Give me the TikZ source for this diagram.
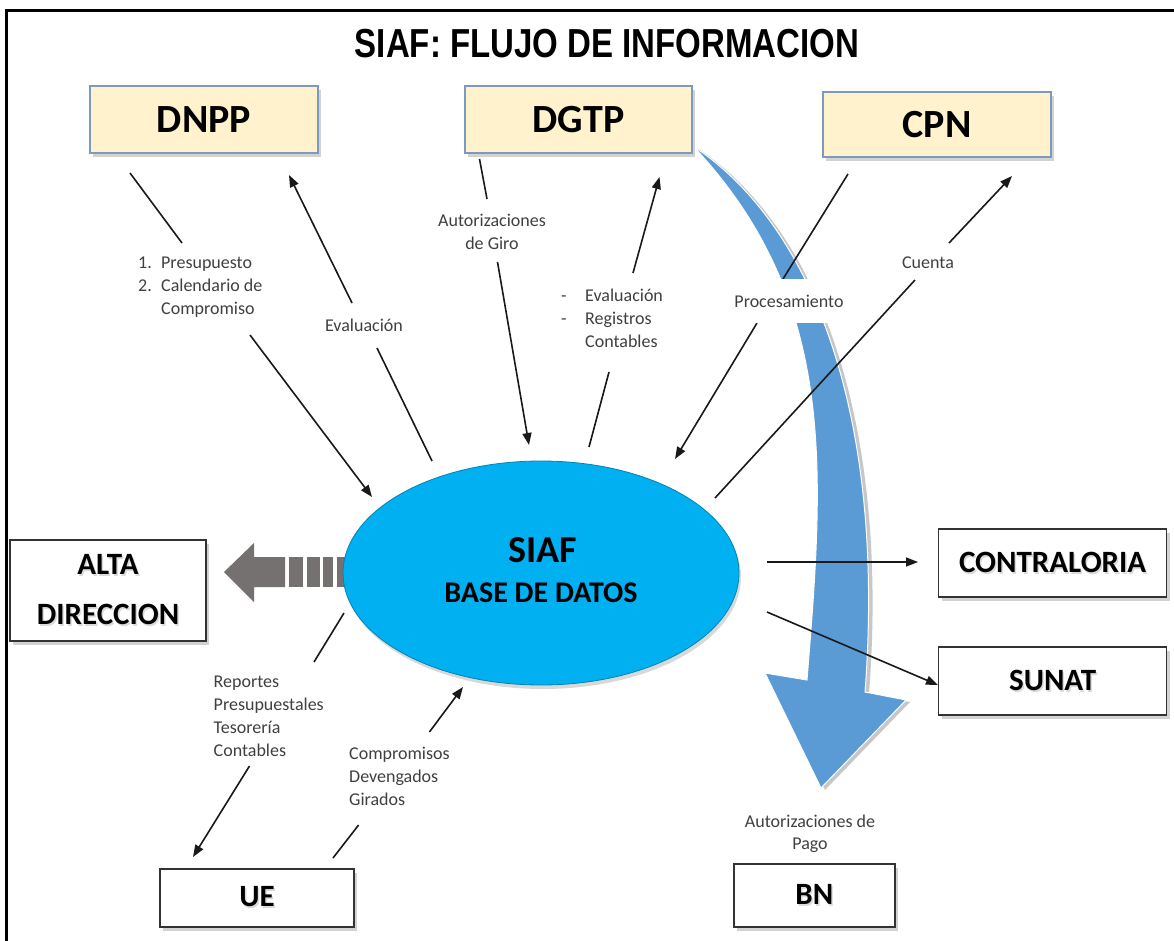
\documentclass[tikz,border=0pt]{standalone}
\usepackage{fontspec}
\usepackage{graphicx}
\setmainfont{Carlito}
\newfontfamily\titlefont{Liberation Sans}
\usetikzlibrary{arrows.meta,shadows,shapes.geometric}
\definecolor{boxfill}{HTML}{FFF2CC}
\definecolor{boxline}{HTML}{7C9AC0}
\definecolor{siafblue}{HTML}{00B0F0}
\definecolor{arrowblue}{HTML}{5B9BD5}
\definecolor{grayarrow}{HTML}{767171}
\definecolor{lblcol}{HTML}{404040}
\newcommand\shd[1]{\leavevmode\rlap{\kern1.5pt\raisebox{-2pt}{\textcolor{black!14}{#1}}}#1}
\begin{document}
\begin{tikzpicture}[x=1pt,y=-1pt,
  ybox/.style={draw=boxline, line width=1.2pt, fill=boxfill,
    drop shadow={opacity=0.35,shadow xshift=3pt,shadow yshift=-4pt},
    font=\fontsize{40}{40}\selectfont\bfseries, inner sep=0pt},
  wbox/.style={draw=black!80, line width=1.4pt, fill=white,
    drop shadow={opacity=0.35,shadow xshift=3pt,shadow yshift=-4pt},
    font=\fontsize{31}{50}\selectfont\bfseries, align=center, inner sep=0pt},
  conn/.style={line width=1.6pt, draw=black!90},
  arr/.style={conn, -{Triangle[length=12pt,width=9pt]}},
  lab/.style={font=\fontsize{18}{23}\selectfont, text=lblcol, inner sep=2pt, align=left},
]
\useasboundingbox (0,0) rectangle (1174,941);
\fill[white] (0,0) rectangle (1174,941);
% frame
\draw[line width=3pt] (1174,10.5) -- (6,10.5) -- (6,941);
% title
\node (title) at (607,44) {\titlefont\bfseries\fontsize{40.5}{40.5}\selectfont\scalebox{0.815}[1]{SIAF: FLUJO DE INFORMACION}};

% big curved blue arrow DGTP -> BN
\fill[black, opacity=0.22] ([shift={(4,2)}]693,146) .. controls ([shift={(4,2)}]820,230) and ([shift={(4,2)}]885,430) .. ([shift={(4,2)}]865,692)
  -- ([shift={(4,2)}]906,700) -- ([shift={(4,2)}]821,788) -- ([shift={(4,2)}]765,673) -- ([shift={(4,2)}]807,680)
  .. controls ([shift={(4,2)}]824,470) and ([shift={(4,2)}]838,300) .. ([shift={(4,2)}]693,146) -- cycle;
\filldraw[fill=arrowblue, draw=white, line width=1pt] (693,146) .. controls (820,230) and (885,430) .. (865,692)
  -- (906,700) -- (821,788) -- (765,673) -- (807,680)
  .. controls (824,470) and (838,300) .. (693,146) -- cycle;

% boxes
\node[ybox, minimum width=228pt, minimum height=67pt] (dnpp) at (204,119.5) {DNPP};
\node[ybox, minimum width=227pt, minimum height=67pt] (dgtp) at (578.5,119.5) {DGTP};
\node[ybox, minimum width=228pt, minimum height=65pt] (cpn) at (937,124.5) {CPN};
\node[wbox, minimum width=196pt, minimum height=101pt] (alta) at (108,590.5) {\shd{ALTA}\\\shd{DIRECCION}};
\node[wbox, minimum width=194pt, minimum height=58pt] (ue) at (257,898) {\shd{UE}};
\node[wbox, minimum width=228pt, minimum height=68pt] (contra) at (1052.6,563) {\shd{CONTRALORIA}};
\node[wbox, minimum width=228pt, minimum height=68pt] (sunat) at (1052.6,681) {\shd{SUNAT}};
\node[wbox, minimum width=161pt, minimum height=63pt] (bn) at (814.3,895.5) {\shd{BN}};

% gray striped arrow to ALTA DIRECCION
\fill[grayarrow] (224,572) -- (254,543) -- (254,557) -- (285,557) -- (285,587) -- (254,587) -- (254,602) -- cycle;
\fill[grayarrow] (289,557) rectangle (303,587);
\fill[grayarrow] (307,557) rectangle (320,587);
\fill[grayarrow] (323,557) rectangle (333,587);
\fill[grayarrow] (337,557) rectangle (345,587);

% ellipse
\node[ellipse, minimum width=396pt, minimum height=224pt, fill=siafblue, draw=siafblue!75!black, line width=0.8pt,
  drop shadow={opacity=0.3,shadow xshift=2pt,shadow yshift=-4pt}] (siaf) at (541,573) {};
\node[font=\fontsize{38}{38}\selectfont\bfseries] (siaft) at (543,550) {SIAF};
\node[font=\fontsize{30}{30}\selectfont\bfseries] (siafs) at (541,593) {BASE DE DATOS};

% connector coordinates
\coordinate (a1) at (130,173); \coordinate (a2) at (182,243);
\coordinate (a3) at (250,335); \coordinate (a4) at (372,497);
\coordinate (b1) at (432,461); \coordinate (b2) at (377,348);
\coordinate (b3) at (352,303); \coordinate (b4) at (289,175);
\coordinate (c1) at (479.5,159); \coordinate (c2) at (487,199);
\coordinate (c3) at (497.5,262); \coordinate (c4) at (529,445);
\coordinate (d1) at (589,447); \coordinate (d2) at (609,372);
\coordinate (d3) at (633,273); \coordinate (d4) at (659.5,177);
\coordinate (e1) at (848,174); \coordinate (e2) at (783,279);
\coordinate (e3) at (757,323); \coordinate (e4) at (675,459);
\coordinate (f1) at (715,498); \coordinate (f2) at (915,280);
\coordinate (f3) at (949,243); \coordinate (f4) at (1012,176);
\coordinate (g1) at (767,562); \coordinate (g2) at (918,562);
\coordinate (h1) at (767,612); \coordinate (h2) at (938,685);
\coordinate (i1) at (344,613); \coordinate (i2) at (314,662);
\coordinate (i3) at (249.5,766); \coordinate (i4) at (193,857);
\coordinate (j1) at (333,858); \coordinate (j2) at (358.6,825);
\coordinate (j3) at (429.4,732); \coordinate (j4) at (463,687);

\draw[conn] (a1) -- (a2); \draw[arr] (a3) -- (a4);
\draw[conn] (b1) -- (b2); \draw[arr] (b3) -- (b4);
\draw[conn] (c1) -- (c2); \draw[arr] (c3) -- (c4);
\draw[conn] (d1) -- (d2); \draw[arr] (d3) -- (d4);
\draw[conn] (e1) -- (e2); \draw[arr] (e3) -- (e4);
\draw[conn] (f1) -- (f2); \draw[arr] (f3) -- (f4);
\draw[arr] (g1) -- (g2);
\draw[arr] (h1) -- (h2);
\draw[conn] (i1) -- (i2); \draw[arr] (i3) -- (i4);
\draw[conn] (j1) -- (j2); \draw[arr] (j3) -- (j4);

% labels
\node[lab, anchor=west] (l1) at (136,286.7) {\makebox[23pt][l]{1.}Presupuesto\\\makebox[23pt][l]{2.}Calendario de\\\hspace*{23pt}Compromiso};
\node[lab] (l2) at (364,325) {Evaluación};
\node[lab, align=center] (l3) at (492,232) {Autorizaciones\\de Giro};
\node[lab, anchor=west] (l4) at (559,318) {\makebox[24pt][l]{-}Evaluación\\\makebox[24pt][l]{-}Registros\\\hspace*{24pt}Contables};
\node[lab, fill=white, minimum width=152pt, minimum height=44pt] (l5) at (789,301) {Procesamiento};
\node[lab] (l6) at (928,263) {Cuenta};
\node[lab, anchor=west] (l7) at (211.5,716.7) {Reportes\\Presupuestales\\Tesorería\\Contables};
\node[lab, anchor=west] (l8) at (347,776) {Compromisos\\Devengados\\Girados};
\node[lab, align=center, font=\fontsize{18}{22}\selectfont] (l9) at (810,834) {Autorizaciones de\\Pago};
\end{tikzpicture}
\end{document}
